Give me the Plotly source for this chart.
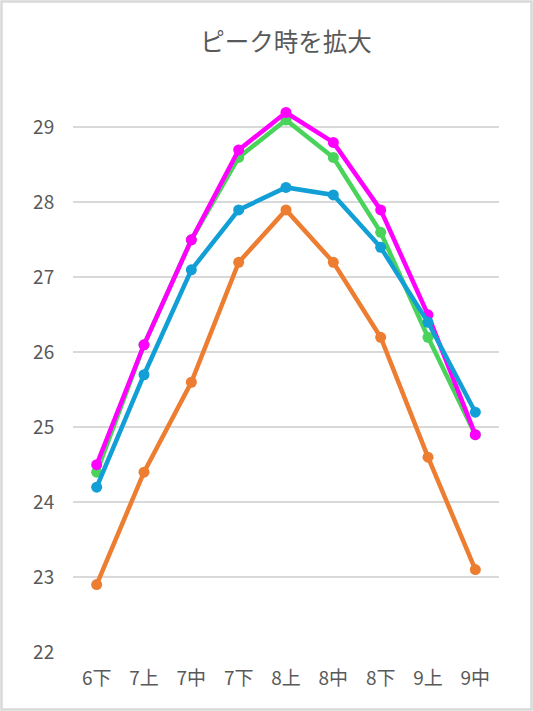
import plotly.graph_objects as go

# categories (旬)
categories = ['6下', '7上', '7中', '7下', '8上', '8中', '8下', '9上', '9中']

# series values
orange_vals = [22.9, 24.4, 25.6, 27.2, 27.9, 27.2, 26.2, 24.6, 23.1]
green_vals = [24.4, 26.1, 27.5, 28.6, 29.1, 28.6, 27.6, 26.2, 24.9]
magenta_vals = [24.5, 26.1, 27.5, 28.7, 29.2, 28.8, 27.9, 26.5, 24.9]
blue_vals = [24.2, 25.7, 27.1, 27.9, 28.2, 28.1, 27.4, 26.4, 25.2]

y_ticks = [22, 23, 24, 25, 26, 27, 28, 29]

W, H = 533, 711
ml, mr, mt, mb = 73, 34, 90, 59

fig = go.Figure()

series = [
    (orange_vals, '#ED7D31'),
    (green_vals, '#4AD35B'),
    (magenta_vals, '#FF00FF'),
    (blue_vals, '#119FD6'),
]
for vals, col in series:
    fig.add_trace(go.Scatter(
        x=categories,
        y=vals,
        mode='lines+markers',
        line=dict(color=col, width=4.5),
        marker=dict(color=col, size=11),
        showlegend=False,
        hoverinfo='skip'
    ))

# light grey chart border
pw = W - ml - mr
ph = H - mt - mb
fig.add_shape(
    type='rect', xref='paper', yref='paper',
    x0=-(ml - 1.5) / pw, x1=1 + (mr - 1.5) / pw,
    y0=-(mb - 1.5) / ph, y1=1 + (mt - 1.5) / ph,
    line=dict(color='#d9d9d9', width=2.5),
    layer='below'
)

fig.update_layout(
    width=W,
    height=H,
    margin=dict(l=ml, r=mr, t=mt, b=mb),
    paper_bgcolor='white',
    plot_bgcolor='white',
    title=dict(
        text='ピーク時を拡大',
        x=0.5,
        xref='paper',
        y=1 - 42 / H,
        yanchor='middle',
        font=dict(family='Noto Sans CJK JP', size=24.5, color='#595959')
    ),
    font=dict(family='Noto Sans CJK JP', color='#595959'),
    xaxis=dict(
        type='category',
        range=[-0.5, len(categories) - 0.5],
        showgrid=False,
        zeroline=False,
        showline=False,
        ticks='outside',
        ticklen=9,
        tickcolor='rgba(0,0,0,0)',
        tickfont=dict(size=19, color='#595959'),
        fixedrange=True
    ),
    yaxis=dict(
        range=[22, 29.5],
        tickvals=y_ticks,
        showgrid=True,
        gridcolor='#d9d9d9',
        gridwidth=1.5,
        zeroline=False,
        showline=False,
        ticks='outside',
        ticklen=14,
        tickcolor='rgba(0,0,0,0)',
        tickfont=dict(size=19, color='#595959'),
        fixedrange=True
    )
)

# the page's default body margin would push the chart off-screen
fig.write_html("out.html", config={'displayModeBar': False},
               post_script="document.body.style.margin='0';")
